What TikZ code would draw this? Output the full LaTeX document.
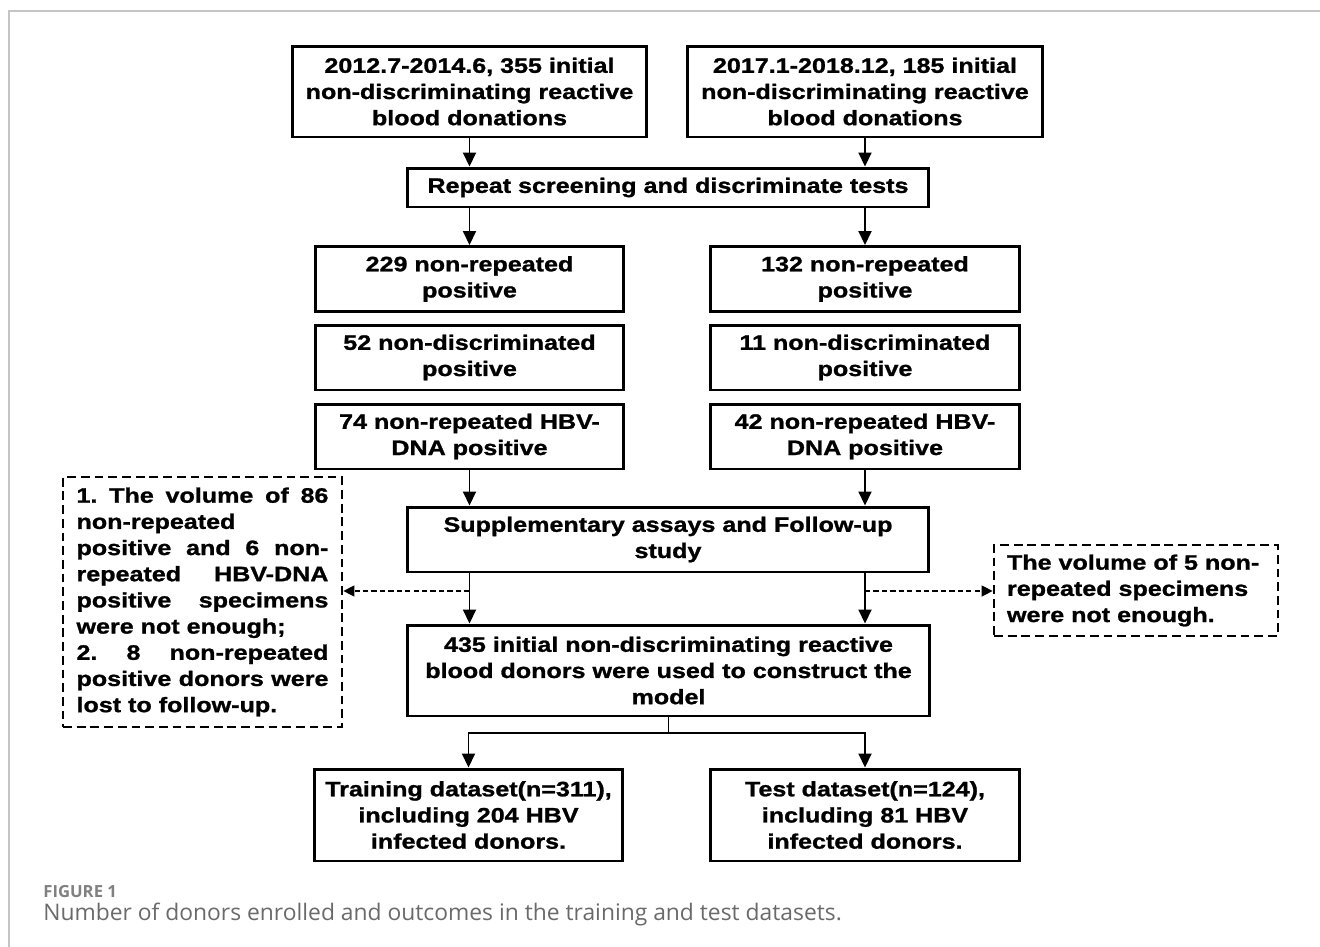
\documentclass[tikz,border=0pt]{standalone}
\usepackage{fontspec}
\usepackage{tikz}
\usetikzlibrary{arrows.meta}

\newfontfamily\boxfont{Liberation Sans}[FakeStretch=1.2, BoldFeatures={FakeBold=1.2}]
\newfontfamily\capfont{Open Sans}
\definecolor{framegray}{HTML}{C4C4C4}
\definecolor{capgray}{HTML}{6A6A6A}
\definecolor{figgray}{HTML}{808080}
\newlength{\exwidth}
\setlength{\exwidth}{5.04cm}
% justified line: spaces stretched to the full width
\newcommand{\jline}[1]{{\spaceskip=0.3333em plus 1fil\xspaceskip=\spaceskip\makebox[\exwidth][s]{#1}}}

\tikzset{
  box/.style={draw, line width=1.7pt, align=center, inner sep=0pt,
              font=\boxfont\bfseries\fontsize{11.9}{14.9}\selectfont},
  srcbox/.style={box, minimum width=7.1cm, minimum height=1.82cm},
  widebox/.style={box, minimum width=10.44cm},
  midbox/.style={box, minimum width=6.18cm, minimum height=1.3cm},
  exbox/.style={box, line width=1.6pt, dash pattern=on 5pt off 2.8pt, align=left},
  arr/.style={line width=1.1pt, -{Triangle[length=0.28cm, width=0.26cm]}},
  dasharr/.style={line width=0.8pt, dash pattern=on 3pt off 1.8pt,
                  -{Triangle[length=0.22cm, width=0.22cm]}},
}

\begin{document}
\begin{tikzpicture}[x=0.02cm, y=-0.02cm]
  \useasboundingbox (0,0) rectangle (1320,947);
  % Draw the frame of the figure
  \draw[framegray, line width=1.1pt] (9,947) -- (9,11) -- (1320,11);

  % Define the boxes of the two periods
  \node[srcbox] (src1) at (469.5,91.5) {2012.7-2014.6, 355 initial\\non-discriminating reactive\\blood donations};
  \node[srcbox] (src2) at (865,91.5) {2017.1-2018.12, 185 initial\\non-discriminating reactive\\blood donations};
  \node[widebox, minimum height=0.78cm] (repeat) at (668,187.5) {Repeat screening and discriminate tests};

  \node[midbox] (nrp1) at (469.5,279) {229 non-repeated\\positive};
  \node[midbox] (nrp2) at (865,279) {132 non-repeated\\positive};
  \node[midbox] (ndp1) at (469.5,357.5) {52 non-discriminated\\positive};
  \node[midbox] (ndp2) at (865,357.5) {11 non-discriminated\\positive};
  \node[midbox] (hbv1) at (469.5,436.5) {74 non-repeated HBV-\\DNA positive};
  \node[midbox] (hbv2) at (865,436.5) {42 non-repeated HBV-\\DNA positive};

  \node[widebox, minimum height=1.3cm] (supp) at (668,539.5) {Supplementary assays and Follow-up\\study};
  \node[widebox, minimum width=10.46cm, minimum height=1.82cm] (model) at (668.5,670.5) {435 initial non-discriminating reactive\\blood donors were used to construct the\\model};

  \node[midbox, minimum height=1.84cm] (train) at (468.5,815) {Training dataset(n=311),\\including 204 HBV\\infected donors.};
  \node[midbox, minimum height=1.84cm] (test) at (865,815) {Test dataset(n=124),\\including 81 HBV\\infected donors.};

  % Define the excluded specimens
  \node[exbox, minimum width=5.58cm, minimum height=5cm, text width=5.04cm] (lost) at (202.5,602)
    {\jline{1. The volume of 86}\\non-repeated\\\jline{positive and 6 non-}\\\jline{repeated HBV-DNA}\\\jline{positive specimens}\\were not enough;\\\jline{2. 8 non-repeated}\\\jline{positive donors were}\\lost to follow-up.};
  \node[exbox, minimum width=5.68cm, minimum height=1.82cm, text width=5.16cm] (short) at (1136,590.5)
    {The volume of 5 non-\\repeated specimens\\were not enough.};

  % Define the branch points
  \coordinate (cutL) at (469.5,591);
  \coordinate (cutR) at (865,591);
  \coordinate (split) at (668.5,733);

  % Draw the connectors
  \draw[arr] (src1.south) -- (src1.south |- repeat.north);
  \draw[arr] (src2.south) -- (src2.south |- repeat.north);
  \draw[arr] (nrp1.north |- repeat.south) -- (nrp1.north);
  \draw[arr] (nrp2.north |- repeat.south) -- (nrp2.north);
  \draw[arr] (hbv1.south) -- (hbv1.south |- supp.north);
  \draw[arr] (hbv2.south) -- (hbv2.south |- supp.north);
  \draw[arr] (hbv1.south |- supp.south) -- (hbv1.south |- model.north);
  \draw[arr] (hbv2.south |- supp.south) -- (hbv2.south |- model.north);
  \draw[dasharr] (cutL) -- (lost.east |- cutL);
  \draw[dasharr] (cutR) -- (short.west |- cutR);
  \draw[line width=1.1pt] (model.south) -- (split);
  \draw[arr] (split) -| (train.north);
  \draw[arr] (split) -| (test.north);

  % Caption
  \node[anchor=base west, inner sep=0pt, text=figgray,
        font=\capfont\bfseries\fontsize{9.5}{11}\selectfont] (fignum) at (43,897) {FIGURE 1};
  \node[anchor=base west, inner sep=0pt, text=capgray,
        font=\capfont\fontsize{13}{15}\selectfont] (caption) at (43,920) {Number of donors enrolled and outcomes in the training and test datasets.};
\end{tikzpicture}
\end{document}
